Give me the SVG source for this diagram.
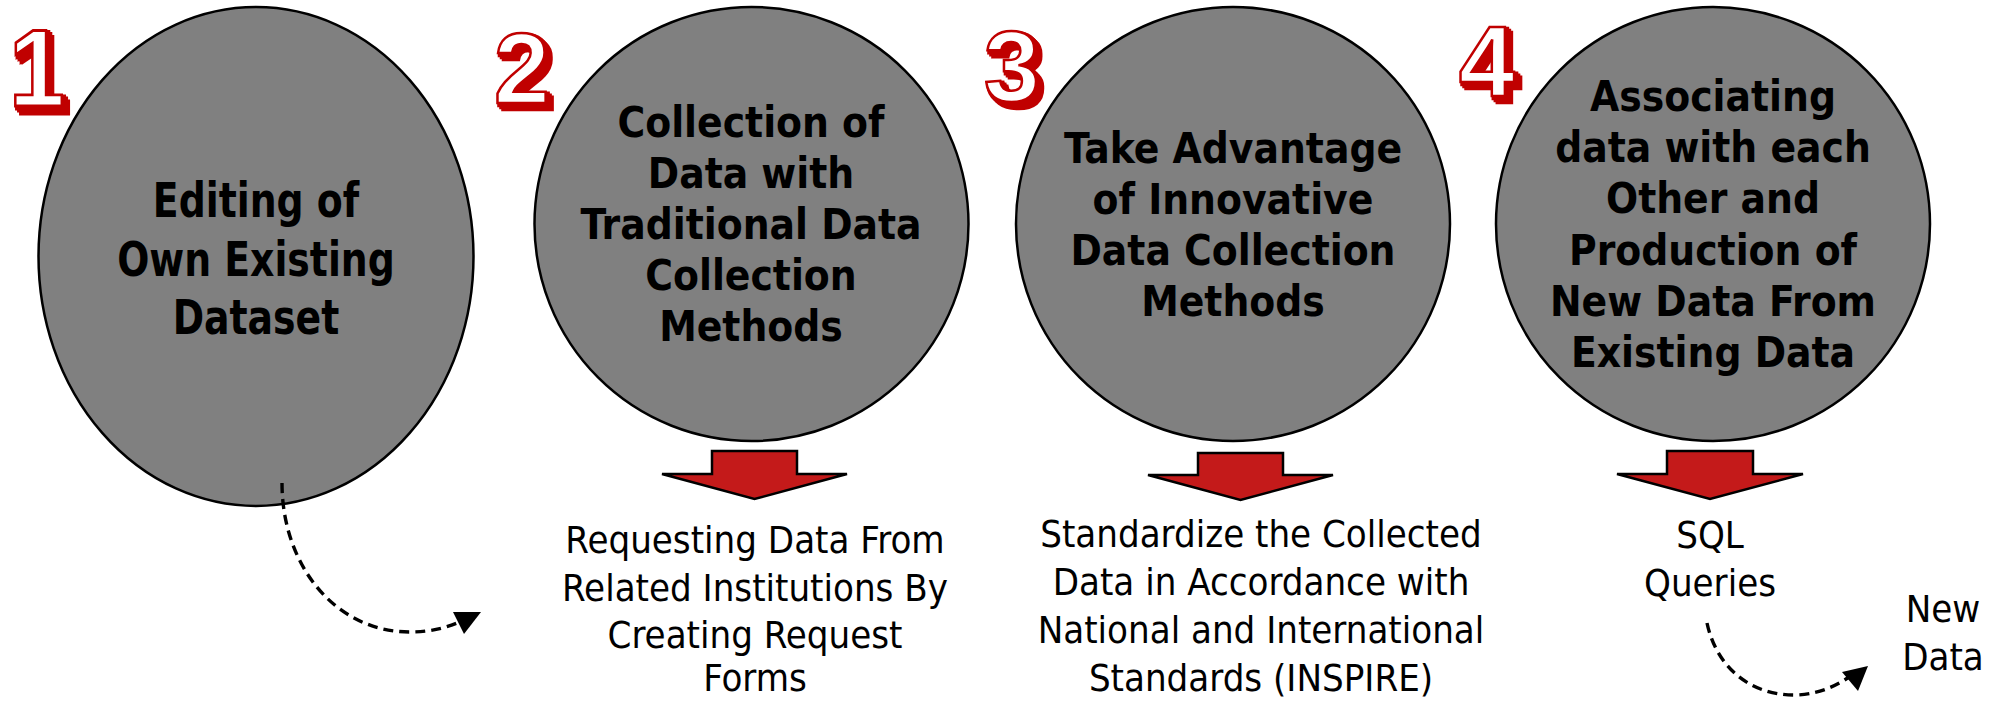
<svg xmlns="http://www.w3.org/2000/svg" width="1998" height="701" viewBox="0 0 1998 701">
<defs>
<filter id="extrude" x="-20%" y="-20%" width="160%" height="160%">
<feMorphology in="SourceAlpha" operator="dilate" radius="1.2" result="d"/>
<feOffset in="d" dx="2" dy="2" result="o1"/>
<feOffset in="d" dx="4" dy="4" result="o2"/>
<feOffset in="d" dx="6" dy="6" result="o3"/>
<feMerge result="m"><feMergeNode in="o1"/><feMergeNode in="o2"/><feMergeNode in="o3"/></feMerge>
<feFlood flood-color="#c00000"/>
<feComposite in2="m" operator="in" result="sh"/>
<feMerge><feMergeNode in="sh"/><feMergeNode in="SourceGraphic"/></feMerge>
</filter>
</defs>
<style>
.circ{fill:#808080;stroke:#000;stroke-width:2.5}
.ct{font-family:"DejaVu Sans Condensed","DejaVu Sans",sans-serif;font-stretch:condensed;font-weight:bold;font-size:42px;fill:#000;text-anchor:middle}
.bt{font-family:"DejaVu Sans Condensed","DejaVu Sans",sans-serif;font-stretch:condensed;font-size:38px;fill:#000;text-anchor:middle}
.num{font-family:"Liberation Sans","DejaVu Sans",sans-serif;font-weight:bold;font-size:100px;fill:#fff;stroke:#c00000;stroke-width:2.5;filter:url(#extrude)}
.rarrow{fill:#c41a1a;stroke:#000;stroke-width:2.5;stroke-linejoin:miter}
.dash{fill:none;stroke:#000;stroke-width:3.4;stroke-dasharray:10 6}
</style>
<rect width="1998" height="701" fill="#fff"/>

<g id="step1">
<ellipse class="circ" cx="256" cy="256.5" rx="217.5" ry="249.5"/>
<text class="ct" transform="translate(256 217) scale(1 1.147)">Editing of</text>
<text class="ct" transform="translate(256 276) scale(1 1.147)">Own Existing</text>
<text class="ct" transform="translate(256 334) scale(1 1.147)">Dataset</text>
<text class="num" transform="translate(9 106) scale(1 1.1)">1</text>
</g>

<g id="step2">
<circle class="circ" cx="751.5" cy="224" r="217"/>
<text class="ct" x="751" y="137">Collection of</text>
<text class="ct" x="751" y="188">Data with</text>
<text class="ct" x="751" y="239">Traditional Data</text>
<text class="ct" x="751" y="290">Collection</text>
<text class="ct" x="751" y="341">Methods</text>
<text class="num" x="494" y="103">2</text>
</g>

<g id="step3">
<circle class="circ" cx="1233" cy="224" r="217"/>
<text class="ct" x="1233" y="163">Take Advantage</text>
<text class="ct" x="1233" y="214">of Innovative</text>
<text class="ct" x="1233" y="265">Data Collection</text>
<text class="ct" x="1233" y="316">Methods</text>
<text class="num" x="984" y="101">3</text>
</g>

<g id="step4">
<circle class="circ" cx="1713" cy="224" r="217"/>
<text class="ct" x="1713" y="111">Associating</text>
<text class="ct" x="1713" y="162">data with each</text>
<text class="ct" x="1713" y="213">Other and</text>
<text class="ct" x="1713" y="265">Production of</text>
<text class="ct" x="1713" y="316">New Data From</text>
<text class="ct" x="1713" y="367">Existing Data</text>
<text class="num" x="1459" y="96">4</text>
</g>

<g id="result2">
<text class="bt" x="755" y="553">Requesting Data From</text>
<text class="bt" x="755" y="601">Related Institutions By</text>
<text class="bt" x="755" y="648">Creating Request</text>
<text class="bt" x="755" y="691">Forms</text>
</g>

<g id="result3">
<text class="bt" x="1261" y="547">Standardize the Collected</text>
<text class="bt" x="1261" y="595">Data in Accordance with</text>
<text class="bt" x="1261" y="643">National and International</text>
<text class="bt" x="1261" y="691">Standards (INSPIRE)</text>
</g>

<g id="result4">
<text class="bt" x="1710" y="548">SQL</text>
<text class="bt" x="1710" y="596">Queries</text>
</g>

<g id="newdata">
<text class="bt" x="1943" y="622">New</text>
<text class="bt" x="1943" y="670">Data</text>
</g>

<g id="connectors">
<polygon class="rarrow" points="712,451 797,451 797,474 847,474 754.5,499 662,474 712,474"/>
<polygon class="rarrow" points="1198,453 1283,453 1283,475 1333,475 1240.5,500 1148,475 1198,475"/>
<polygon class="rarrow" points="1667,451 1753,451 1753,474 1803,474 1710,499 1617,474 1667,474"/>
<path class="dash" d="M282,483 C282,565 335,632 410,632 C432,632 450,627 466,619"/>
<polygon points="481,612 453,612 464,634" fill="#000"/>
<path class="dash" d="M1707,623 C1716,665 1748,696 1797,695 C1820,694 1838,685 1852,675"/>
<polygon points="1868,666 1842,672 1858,691" fill="#000"/>
</g>
</svg>
